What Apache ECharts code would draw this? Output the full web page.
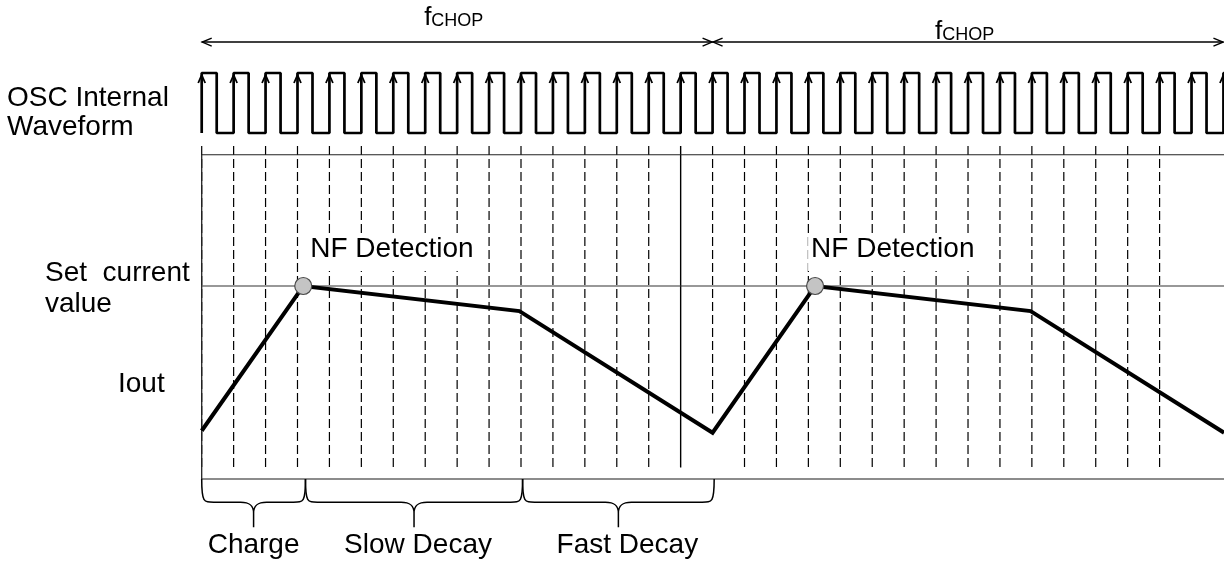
<!DOCTYPE html>
<html>
<head>
<meta charset="utf-8">
<title>OSC internal waveform and Iout chopping</title>
<script src="https://cdn.jsdelivr.net/npm/echarts@6/dist/echarts.min.js"></script>
<style>
  html, body { margin: 0; padding: 0; background: #fff; }
  #chart { width: 1224px; height: 568px; }
</style>
</head>
<body>
<div id="chart"></div>
<script>
// time is counted in OSC clock periods, t = 0 at the first rising edge
const oscEdges = [0, 1, 2, 3, 4, 5, 6, 7, 8, 9, 10, 11, 12, 13, 14, 15, 16,
  17, 18, 19, 20, 21, 22, 23, 24, 25, 26, 27, 28, 29, 30, 31, 32]
const oscDuty = 0.47

// vertical guides at the clock edges, edge 15 is solid, edge 16 stops above the valley
const guideEdges = [0, 1, 2, 3, 4, 5, 6, 7, 8, 9, 10, 11, 12, 13, 14, 15,
  16, 17, 18, 19, 20, 21, 22, 23, 24, 25, 26, 27, 28, 29, 30]
const solidGuide = 15
const guideCut = { 16: 34 }

// Iout in % of the set current value
const ioutTime = [0, 3.18, 9.95, 16.0, 19.21, 25.96, 32.02]
const ioutValue = [25, 100, 87, 24, 100, 87, 24]
const setCurrent = 100

const chopBounds = [0, 16, 32]
const phaseBounds = [0, 3.25, 10.05, 16.05]
const phaseNames = ['Charge', 'Slow Decay', 'Fast Decay']

// layout (axis units of the Iout panel)
const X_MIN = -6.317, X_MAX = 32.017
const Y_MIN = -46.11, Y_MAX = 248.19
const FRAME_TOP = 168
const GUIDE_TOP = 172.5, GUIDE_BOTTOM = 6
const CHOP_LEVEL = 226.4
const BRACE_MID = -12, BRACE_TIP = -25, PHASE_LABEL = -34.5
const chopLift = [15.6, 1.6]
const phaseShift = [0, 4, 9]
const nfShift = [4, -7]

const FONT = '"Liberation Sans", Arial, Helvetica, sans-serif'
const font = size => size + 'px ' + FONT

const squareWave = []
oscEdges.forEach(t => {
  squareWave.push([t, 0], [t, 1], [t + oscDuty, 1], [t + oscDuty, 0])
})
const iout = ioutTime.map((t, i) => [t, ioutValue[i]])
const peaks = iout.filter(p => p[1] === setCurrent)

const chart = echarts.init(document.getElementById('chart'))

function leftLabel(text, x, y) {
  return {
    type: 'text', x: x, y: y, silent: true,
    style: { text: text, font: font(28), fill: '#000', textAlign: 'left', textVerticalAlign: 'middle', align: 'left', verticalAlign: 'middle' }
  }
}

function segment(x1, y1, x2, y2, style) {
  return { type: 'line', shape: { x1: x1, y1: y1, x2: x2, y2: y2 }, style: style }
}

chart.setOption({
  animation: false,
  backgroundColor: '#fff',
  grid: [
    { left: 0, right: 0, top: 73, height: 60 },
    { left: 0, right: 0, top: 0, bottom: 0 }
  ],
  xAxis: [
    { type: 'value', gridIndex: 0, min: X_MIN, max: X_MAX, show: false },
    { type: 'value', gridIndex: 1, min: X_MIN, max: X_MAX, show: false }
  ],
  yAxis: [
    { type: 'value', gridIndex: 0, min: 0, max: 1, show: false },
    { type: 'value', gridIndex: 1, min: Y_MIN, max: Y_MAX, show: false }
  ],
  graphic: [
    leftLabel('OSC Internal', 7, 98.6),
    leftLabel('Waveform', 7, 127),
    leftLabel('Set  current', 45, 273),
    leftLabel('value', 45, 304.3),
    leftLabel('Iout', 118, 384.3)
  ],
  series: [
    {
      name: 'OSC',
      type: 'line',
      xAxisIndex: 0,
      yAxisIndex: 0,
      clip: false,
      symbol: 'none',
      lineStyle: { color: '#000', width: 2.7 },
      data: squareWave
    },
    {
      name: 'OSC edges',
      type: 'custom',
      xAxisIndex: 0,
      yAxisIndex: 0,
      clip: false,
      silent: true,
      data: oscEdges.map(t => [t, 1]),
      renderItem: (params, api) => {
        const p = api.coord([api.value(0), api.value(1)])
        return {
          type: 'polyline',
          shape: { points: [[p[0] - 3.5, p[1] + 10], [p[0], p[1] + 2], [p[0] + 3.5, p[1] + 10]] },
          style: { stroke: '#000', lineWidth: 1.8, fill: null }
        }
      }
    },
    {
      name: 'guides',
      type: 'custom',
      xAxisIndex: 1,
      yAxisIndex: 1,
      clip: false,
      silent: true,
      z: 1,
      data: guideEdges.map(t => [t, GUIDE_TOP, guideCut[t] !== undefined ? guideCut[t] : GUIDE_BOTTOM]),
      renderItem: (params, api) => {
        const t = api.value(0)
        const a = api.coord([t, api.value(1)])
        const b = api.coord([t, api.value(2)])
        const solid = t === solidGuide
        return segment(a[0], a[1], b[0], b[1], {
          stroke: '#000', lineWidth: solid ? 1.4 : 1.2, lineDash: solid ? null : [9, 4]
        })
      }
    },
    {
      name: 'frame top',
      type: 'line', xAxisIndex: 1, yAxisIndex: 1, clip: false, symbol: 'none', z: 2,
      lineStyle: { color: '#222', width: 1.2 },
      data: [[0, FRAME_TOP], [X_MAX, FRAME_TOP]]
    },
    {
      name: 'frame bottom',
      type: 'line', xAxisIndex: 1, yAxisIndex: 1, clip: false, symbol: 'none', z: 2,
      lineStyle: { color: '#666', width: 1.4 },
      data: [[0, 0], [X_MAX, 0]]
    },
    {
      name: 'frame left',
      type: 'line', xAxisIndex: 1, yAxisIndex: 1, clip: false, symbol: 'none', z: 2,
      lineStyle: { color: '#222', width: 1.3 },
      data: [[0, 0], [0, FRAME_TOP]]
    },
    {
      name: 'Set current value',
      type: 'line', xAxisIndex: 1, yAxisIndex: 1, clip: false, symbol: 'none', z: 2,
      lineStyle: { color: '#333', width: 1.2 },
      data: [[0, setCurrent], [X_MAX, setCurrent]]
    },
    {
      name: 'Iout',
      type: 'line', xAxisIndex: 1, yAxisIndex: 1, clip: false, symbol: 'none', z: 3,
      lineStyle: { color: '#000', width: 4, join: 'miter' },
      data: iout
    },
    {
      name: 'NF Detection',
      type: 'scatter', xAxisIndex: 1, yAxisIndex: 1, z: 4,
      symbol: 'circle', symbolSize: 17,
      itemStyle: { color: '#c4c4c4', borderColor: '#4a4a4a', borderWidth: 1.2, opacity: 1 },
      data: peaks
    },
    {
      name: 'NF Detection label',
      type: 'custom', xAxisIndex: 1, yAxisIndex: 1, clip: false, silent: true, z: 5,
      data: peaks,
      renderItem: (params, api) => {
        const p = api.coord([api.value(0), api.value(1)])
        return {
          type: 'text',
          x: p[0] + nfShift[params.dataIndex],
          y: p[1] - 53,
          style: {
            text: 'NF Detection', font: font(28), fill: '#000',
            align: 'left', verticalAlign: 'top',
            backgroundColor: '#fff', padding: [2, 3, 8, 3]
          }
        }
      }
    },
    {
      name: 'fCHOP',
      type: 'custom', xAxisIndex: 1, yAxisIndex: 1, clip: false, silent: true, z: 5,
      data: chopBounds.slice(1).map((t, i) => [chopBounds[i], t, CHOP_LEVEL]),
      renderItem: (params, api) => {
        const a = api.coord([api.value(0), api.value(2)])
        const b = api.coord([api.value(1), api.value(2)])
        const y = a[1]
        const mid = (a[0] + b[0]) / 2
        const base = y - chopLift[params.dataIndex]
        const st = { stroke: '#000', lineWidth: 1.4, fill: null }
        return {
          type: 'group',
          children: [
            segment(a[0], y, b[0], y, st),
            { type: 'polyline', shape: { points: [[a[0] + 10, y - 4], [a[0] + 0.5, y], [a[0] + 10, y + 4]] }, style: st },
            { type: 'polyline', shape: { points: [[b[0] - 10, y - 4], [b[0] - 0.5, y], [b[0] - 10, y + 4]] }, style: st },
            { type: 'text', x: mid - 33, y: base - 0.3465 * 26,
              style: { text: 'f', font: font(26), fill: '#000', align: 'left', verticalAlign: 'middle' } },
            { type: 'text', x: mid - 25.8, y: base + 0.6 - 0.3465 * 18,
              style: { text: 'CHOP', font: font(18), fill: '#000', align: 'left', verticalAlign: 'middle' } }
          ]
        }
      }
    },
    {
      name: 'phases',
      type: 'custom', xAxisIndex: 1, yAxisIndex: 1, clip: false, silent: true, z: 5,
      data: phaseNames.map((n, i) => [phaseBounds[i], phaseBounds[i + 1]]),
      renderItem: (params, api) => {
        const x0 = api.coord([api.value(0), 0])[0]
        const x1 = api.coord([api.value(1), 0])[0]
        const yTop = api.coord([0, 0])[1]
        const yMid = api.coord([0, BRACE_MID])[1]
        const yTip = api.coord([0, BRACE_TIP])[1]
        const yLab = api.coord([0, PHASE_LABEL])[1]
        const xm = (x0 + x1) / 2
        const d = [
          'M', x0, yTop, 'C', x0, yMid, x0 + 2, yMid, x0 + 12, yMid,
          'L', xm - 13, yMid, 'C', xm - 4, yMid, xm, yMid + 3, xm, yMid + 11,
          'L', xm, yTip,
          'M', xm, yMid + 11, 'C', xm, yMid + 3, xm + 4, yMid, xm + 13, yMid,
          'L', x1 - 12, yMid, 'C', x1 - 2, yMid, x1, yMid, x1, yTop
        ].join(' ')
        return {
          type: 'group',
          children: [
            { type: 'path', shape: { pathData: d }, style: { stroke: '#000', lineWidth: 1.5, fill: null } },
            { type: 'text', x: xm + phaseShift[params.dataIndex], y: yLab,
              style: { text: phaseNames[params.dataIndex], font: font(28), fill: '#000', align: 'center', verticalAlign: 'middle' } }
          ]
        }
      }
    }
  ]
})
</script>
</body>
</html>
